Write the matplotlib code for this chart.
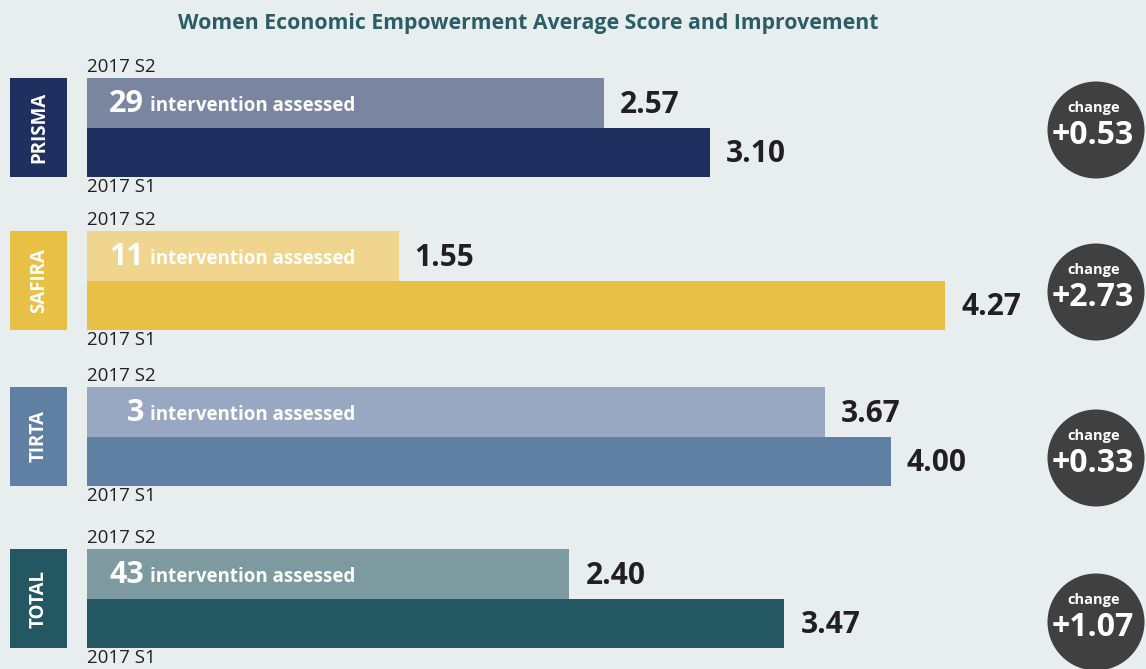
import matplotlib
matplotlib.use("Agg")
import matplotlib.pyplot as plt
from matplotlib.patches import Rectangle, Ellipse

# ---- data ----
groups = ["PRISMA", "SAFIRA", "TIRTA", "TOTAL"]
s2_values = [2.57, 1.55, 3.67, 2.40]
s1_values = [3.10, 4.27, 4.00, 3.47]
interventions = ["29", "11", "3", "43"]
changes = ["+0.53", "+2.73", "+0.33", "+1.07"]
top_label = "2017 S2"
bottom_label = "2017 S1"
title = "Women Economic Empowerment Average Score and Improvement"

# ---- styles ----
dark_colors = ["#1f3060", "#e9c046", "#5f7fa3", "#235862"]
light_colors = ["#7a85a0", "#f0d58f", "#99a8c2", "#7c9aa0"]
bg = "#e8eeee"
txt = "#231f20"
circle_col = "#404040"
title_col = "#2a5d66"

plt.rcParams['font.family'] = ['Open Sans', 'DejaVu Sans']

W, H = 1146, 669
fig = plt.figure(figsize=(W / 100, H / 100), dpi=100, facecolor=bg)
ax = fig.add_axes([0, 0, 1, 1])
ax.set_facecolor(bg)

x0_px = 87.0
px_per_unit = 201.0
ax.set_xlim(-x0_px / px_per_unit, (W - x0_px) / px_per_unit)
ax.set_ylim(H, 0)
ax.axis("off")

def px2x(px):
    return (px - x0_px) / px_per_unit

bar_h = 49.5
group_tops = [78, 231, 387, 549]       # layout (pixel rows of each group)
circle_centers = [130, 292, 458, 622]  # layout (pixel rows of circles)

for i, g in enumerate(groups):
    top = group_tops[i]
    yc_top = top + bar_h / 2
    yc_bot = top + bar_h * 1.5
    ax.barh(yc_top, s2_values[i], height=bar_h, left=0, color=light_colors[i])
    ax.barh(yc_bot, s1_values[i], height=bar_h, left=0, color=dark_colors[i])

    # value labels
    ax.text(s2_values[i] + px2x(x0_px + 16), yc_top + 2, f"{s2_values[i]:.2f}",
            fontsize=21.5, fontweight="bold", color=txt, ha="left", va="center")
    ax.text(s1_values[i] + px2x(x0_px + 16), yc_bot + 2, f"{s1_values[i]:.2f}",
            fontsize=21.5, fontweight="bold", color=txt, ha="left", va="center")

    # intervention text
    ax.text(px2x(144), yc_top + 1, interventions[i], fontsize=22, fontweight="bold",
            color="white", ha="right", va="center")
    ax.text(px2x(150), yc_top + 3, "intervention assessed", fontsize=13.5,
            fontweight="bold", color="white", ha="left", va="center")

    # period labels
    ax.text(0, top - 2, top_label, fontsize=13.5, color=txt, ha="left", va="bottom")
    ax.text(0, top + 2 * bar_h + 1, bottom_label, fontsize=13.5, color=txt,
            ha="left", va="top")

    # side box
    ax.add_patch(Rectangle((px2x(10), top), 57 / px_per_unit, 2 * bar_h,
                           facecolor=dark_colors[i], edgecolor="none"))
    ax.text(px2x(39), top + bar_h, g, rotation=90, fontsize=13.5,
            fontweight="bold", color="white", ha="center", va="center")

    # change circle
    cy = circle_centers[i]
    r = 48.5
    ax.add_patch(Ellipse((px2x(1096), cy), 2 * r / px_per_unit, 2 * r,
                         facecolor=circle_col, edgecolor="none"))
    ax.text(px2x(1094), cy - 22, "change", fontsize=10.5, fontweight="bold",
            color="white", ha="center", va="center")
    ax.text(px2x(1093), cy + 5, changes[i], fontsize=23, fontweight="bold",
            color="white", ha="center", va="center")

ax.text(px2x(528), 24, title, fontsize=15.3, fontweight="bold", color=title_col,
        ha="center", va="center")

fig.savefig("out.png", dpi=100, facecolor=bg)
